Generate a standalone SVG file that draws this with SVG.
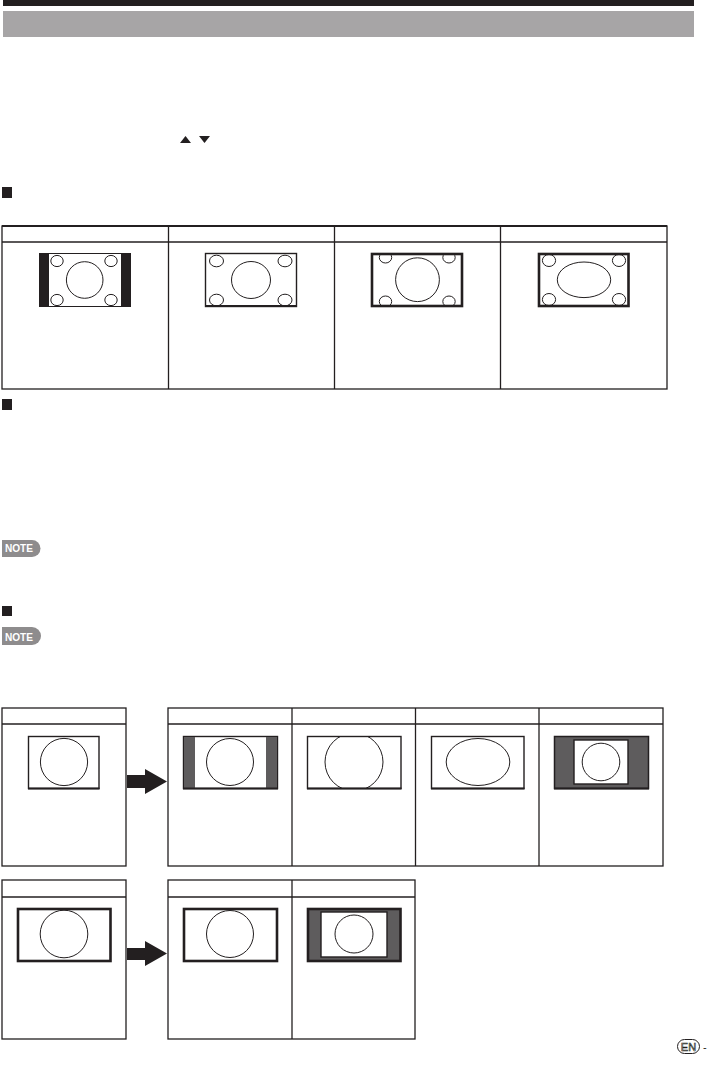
<svg xmlns="http://www.w3.org/2000/svg" width="709" height="1078" viewBox="0 0 709 1078">
<style>
.ln{fill:none;stroke:#231f20;stroke-width:1.3}
.thk{fill:none;stroke:#231f20;stroke-width:2}
.fr{fill:#fff;stroke:#231f20;stroke-width:1.4}
.frn{fill:none;stroke:#231f20;stroke-width:1.4}
.frt{fill:#fff;stroke:#231f20;stroke-width:2.6}
.frtn{fill:none;stroke:#231f20;stroke-width:2.6}
.o{fill:none;stroke:#231f20;stroke-width:1}
.dk{fill:#5e5c5d}
.blk{fill:#231f20}
.note{fill:#8e8c8d}
.notet{font-family:"Liberation Sans",Arial,sans-serif;font-weight:bold;font-size:11px;fill:#fff}
</style>
<defs>
<clipPath id="c3"><rect x="371" y="253" width="92" height="54"/></clipPath>
<clipPath id="c6"><rect x="307" y="736" width="94" height="53"/></clipPath>
</defs>
<rect width="709" height="1078" fill="#fff"/>
<g id="header">
<rect x="3" y="0" width="691" height="6" class="blk"/>
<rect x="3" y="11" width="691" height="26" fill="#a7a5a6"/>
</g>
<g id="arrows-keys">
<polygon points="180,143 185.5,136 191,143" class="blk"/>
<polygon points="199,136 210,136 204.5,143" class="blk"/>
</g>
<g id="bullet1"><rect x="2" y="187" width="10" height="11" class="blk"/></g>
<g id="table1">
<rect x="2" y="226" width="665" height="163" class="ln"/>
<line x1="2" y1="226" x2="667" y2="226" class="thk"/>
<line x1="2" y1="242" x2="667" y2="242" class="ln"/>
<line x1="168.5" y1="226" x2="168.5" y2="389" class="ln"/>
<line x1="334.5" y1="226" x2="334.5" y2="389" class="ln"/>
<line x1="500.5" y1="226" x2="500.5" y2="389" class="ln"/>
</g>
<g id="img1">
<rect x="39" y="253" width="92" height="54" class="blk"/>
<rect x="49" y="254" width="72" height="52" fill="#fff"/>
<circle cx="84.7" cy="280" r="18.3" class="o"/>
<ellipse cx="57" cy="261" rx="6.2" ry="5.6" class="o"/>
<ellipse cx="111" cy="261" rx="6.2" ry="5.6" class="o"/>
<ellipse cx="57" cy="300" rx="6.2" ry="5.6" class="o"/>
<ellipse cx="111" cy="300" rx="6.2" ry="5.6" class="o"/>
</g>
<g id="img2">
<rect x="205.5" y="253.5" width="91" height="53" class="fr"/>
<line x1="205" y1="306" x2="297" y2="306" class="thk"/>
<ellipse cx="251" cy="280" rx="19.5" ry="18.5" class="o"/>
<ellipse cx="216.5" cy="261" rx="7" ry="5.8" class="o"/>
<ellipse cx="285" cy="261" rx="7" ry="5.8" class="o"/>
<ellipse cx="216.5" cy="300" rx="7" ry="5.8" class="o"/>
<ellipse cx="285" cy="300" rx="7" ry="5.8" class="o"/>
</g>
<g id="img3">
<rect x="371" y="253" width="92" height="54" fill="#fff"/>
<g clip-path="url(#c3)">
<circle cx="417.5" cy="279.7" r="21.9" class="o"/>
<ellipse cx="385.5" cy="257.5" rx="6.2" ry="5.5" class="o"/>
<ellipse cx="449" cy="257.5" rx="6.2" ry="5.5" class="o"/>
<ellipse cx="385.5" cy="301.5" rx="6.2" ry="5.5" class="o"/>
<ellipse cx="449" cy="301.5" rx="6.2" ry="5.5" class="o"/>
</g>
<rect x="372" y="254" width="90" height="52" class="frtn"/>
</g>
<g id="img4">
<rect x="539" y="254" width="89.5" height="52" class="frt"/>
<ellipse cx="584" cy="279.8" rx="26.7" ry="17.8" class="o"/>
<ellipse cx="549" cy="260.5" rx="6.6" ry="6" class="o"/>
<ellipse cx="619" cy="260.5" rx="6.6" ry="6" class="o"/>
<ellipse cx="549" cy="299.5" rx="6.6" ry="6" class="o"/>
<ellipse cx="619" cy="299.5" rx="6.6" ry="6" class="o"/>
</g>
<g id="bullet2"><rect x="2" y="399" width="10" height="11" class="blk"/></g>
<g id="note1">
<path d="M2,540 H32 A8.5,8.5 0 0 1 32,557 H2 Z" class="note"/>
<text x="5" y="552.3" class="notet" textLength="28" lengthAdjust="spacingAndGlyphs">NOTE</text>
</g>
<g id="bullet3"><rect x="2" y="606" width="10" height="10" class="blk"/></g>
<g id="note2">
<path d="M2,627 H32 A9,9 0 0 1 32,645 H2 Z" class="note"/>
<text x="5" y="640.5" class="notet" textLength="28" lengthAdjust="spacingAndGlyphs">NOTE</text>
</g>
<g id="table2-src">
<rect x="2" y="708" width="124" height="158" class="ln"/>
<line x1="2" y1="724" x2="126" y2="724" class="ln"/>
<rect x="28.5" y="736.5" width="70.5" height="52" class="fr"/>
<line x1="28" y1="788.5" x2="99.5" y2="788.5" class="thk"/>
<circle cx="64" cy="762" r="23.6" class="o"/>
</g>
<g id="table2-out">
<rect x="168" y="708" width="495" height="158" class="ln"/>
<line x1="168" y1="724" x2="663" y2="724" class="ln"/>
<line x1="292" y1="708" x2="292" y2="866" class="ln"/>
<line x1="415.5" y1="708" x2="415.5" y2="866" class="ln"/>
<line x1="539" y1="708" x2="539" y2="866" class="ln"/>
</g>
<g id="img5">
<rect x="183.5" y="736.5" width="94" height="52" class="fr"/>
<rect x="184" y="737" width="11" height="51" class="dk"/>
<rect x="266" y="737" width="11" height="51" class="dk"/>
<line x1="183" y1="788.5" x2="278" y2="788.5" class="thk"/>
<circle cx="230" cy="762" r="23.5" class="o"/>
</g>
<g id="img6">
<rect x="307" y="736" width="94" height="53" fill="#fff"/>
<g clip-path="url(#c6)"><circle cx="354" cy="762" r="29" class="o"/></g>
<rect x="307.5" y="736.5" width="93.5" height="52" class="frn"/>
<line x1="307" y1="788.5" x2="401.5" y2="788.5" class="thk"/>
</g>
<g id="img7">
<rect x="431.5" y="736.5" width="92.5" height="52" class="fr"/>
<line x1="431" y1="788.5" x2="524.5" y2="788.5" class="thk"/>
<ellipse cx="478" cy="762" rx="31.8" ry="23.5" class="o"/>
</g>
<g id="img8">
<rect x="554.5" y="736.5" width="94" height="52" class="dk" stroke="#231f20" stroke-width="1.5"/>
<line x1="554" y1="788.5" x2="649" y2="788.5" class="thk"/>
<rect x="574" y="740" width="54" height="44" class="fr"/>
<circle cx="601" cy="762" r="18.8" class="o"/>
</g>
<g id="table3-src">
<rect x="2" y="880" width="124" height="159" class="ln"/>
<line x1="2" y1="897" x2="126" y2="897" class="ln"/>
<rect x="18" y="909" width="92.5" height="52" class="frt"/>
<circle cx="64" cy="934" r="23.8" class="o"/>
</g>
<g id="table3-out">
<rect x="168" y="880" width="247" height="159" class="ln"/>
<line x1="168" y1="897" x2="415" y2="897" class="ln"/>
<line x1="292" y1="880" x2="292" y2="1039" class="ln"/>
</g>
<g id="img9">
<rect x="184" y="909" width="93" height="52" class="frt"/>
<circle cx="230" cy="934" r="23.5" class="o"/>
</g>
<g id="img10">
<rect x="308" y="909" width="92.5" height="52" class="dk" stroke="#231f20" stroke-width="2.6"/>
<rect x="321" y="912" width="66" height="45" class="fr"/>
<circle cx="354" cy="934" r="19" class="o"/>
</g>
<g id="connectors">
<polygon points="127,775 145,775 145,769 167,781.5 145,794 145,788 127,788" class="blk"/>
<polygon points="127,948 145,948 145,941 167,953.5 145,966 145,960 127,960" class="blk"/>
</g>
<g id="footer">
<rect x="677.5" y="1039.5" width="22" height="14" rx="7" fill="#fff" stroke="#231f20" stroke-width="1"/>
<text x="688.5" y="1050.5" text-anchor="middle" font-family="Liberation Sans,Arial,sans-serif" font-size="11" fill="#fff" stroke="#231f20" stroke-width="0.6">EN</text>
<text x="703" y="1050.5" font-family="Liberation Sans,Arial,sans-serif" font-size="11" fill="#231f20">-</text>
</g>
</svg>
